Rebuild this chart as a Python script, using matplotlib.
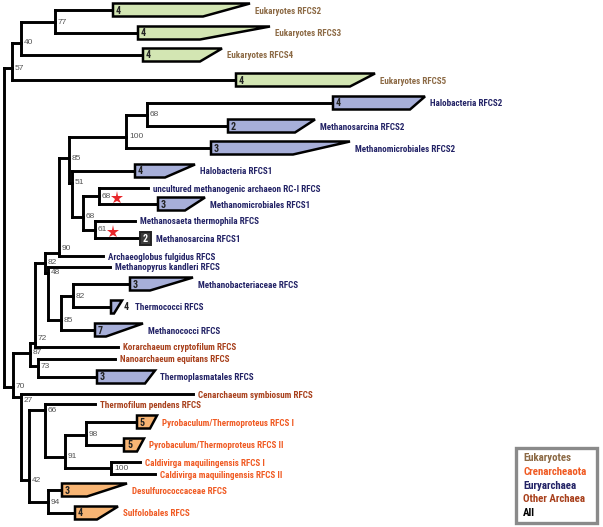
import matplotlib
matplotlib.use("Agg")
import matplotlib.pyplot as plt
from matplotlib.patches import Polygon, Rectangle
from matplotlib import font_manager
from matplotlib.font_manager import FontProperties

# ---------------- data ----------------
# internal nodes: name, parent, depth (x), attach row (y), bootstrap support
node_names   = ['root','E57','E40','E77','A70','A87','A72','N82a','N90','N85','N100','N68a',
                'N51','N68c','N68b','N61','N48','N85b','N82b','A73','A27','A42','A66','N91',
                'N98','N100b','A94']
node_parent  = [None,'root','E57','E40','root','A70','A87','A72','N82a','N90','N85','N100',
                'N85','N51','N68c','N68c','N82a','N48','N85b','A87','A70','A27','A42','A66',
                'N91','N91','A42']
node_depth   = [4,12,21,55,13,30,35,45,59,69,126,147,72,83,99,95,48,61,73,38,21,29,45,65,86,111,48]
node_row     = [None,68,43,22,387,353,343,263,253,158,137,114.5,183,217,196,229.5,273,320,296,
                366,397,480,410,457,435,468,502]
node_support = ['','57','40','77','70','87','72','82','90','85','100','68','51','68','68','61',
                '48','85','82','73','27','42','66','91','98','100','94']

# leaves (collapsed clades have a sequence count and a clade depth span)
leaf_names = ['Eukaryotes RFCS2','Eukaryotes RFCS3','Eukaryotes RFCS4','Eukaryotes RFCS5',
              'Halobacteria RFCS2','Methanosarcina RFCS2','Methanomicrobiales RFCS2',
              'Halobacteria RFCS1','uncultured methanogenic archaeon RC-I RFCS',
              'Methanomicrobiales RFCS1','Methanosaeta thermophila RFCS','Methanosarcina RFCS1',
              'Archaeoglobus fulgidus RFCS','Methanopyrus kandleri RFCS','Methanobacteriaceae RFCS',
              'Thermococci RFCS','Methanococci RFCS','Korarchaeum cryptofilum RFCS',
              'Nanoarchaeum equitans RFCS','Thermoplasmatales RFCS','Cenarchaeum symbiosum RFCS',
              'Thermofilum pendens RFCS','Pyrobaculum/Thermoproteus RFCS I',
              'Pyrobaculum/Thermoproteus RFCS II','Caldivirga maquilingensis RFCS I',
              'Caldivirga maquilingensis RFCS II','Desulfurococcaceae RFCS','Sulfolobales RFCS']
leaf_parent = ['E77','E77','E40','E57','N68a','N68a','N100','N51','N68b','N68b','N61','N61',
               'N90','N48','N82b','N82b','N85b','A72','A73','A73','A27','A66','N98','N98',
               'N100b','N100b','A94','A94']
leaf_group  = ['Euk','Euk','Euk','Euk','Eury','Eury','Eury','Eury','Eury','Eury','Eury','Eury',
               'Eury','Eury','Eury','Eury','Eury','Other','Other','Eury','Other','Other',
               'Cren','Cren','Cren','Cren','Cren','Cren']
leaf_row    = [10,33,55,80,103,126,148,171,188,204,221,238,256,267,284,307,330,347,359,377,
               394,404,422,445,462,474,490,513]
leaf_depth  = [113,138,143,236,333,228,211,135,148,158,135,140,103,110,130,111,95,118,115,97,
               193,95,137,124,140,155,62,75]
leaf_count  = [4,4,4,4,4,2,3,4,None,3,None,2,None,None,3,4,7,None,None,3,None,None,5,5,
               None,None,3,4]
clade_max   = [137,132,79,139,92,87,139,60,None,47,None,11,None,None,63,11,48,None,None,58,
               None,None,20,20,None,None,65,43]
clade_min   = [90,62,57,114,77,67,82,30,None,27,None,11,None,None,20,3,11,None,None,48,
               None,None,13,13,None,None,25,22]

starred_nodes = ['N68b', 'N61']

legend_labels = ['Eukaryotes', 'Crenarcheaota', 'Euryarchaea', 'Other Archaea', 'All']
legend_groups = ['Euk', 'Cren', 'Eury', 'Other', 'All']

# ---------------- style ----------------
text_col = {'Euk': '#8c6a45', 'Cren': '#f05a22', 'Eury': '#232366', 'Other': '#a8401c', 'All': '#000000'}
fill_col = {'Euk': '#d3e6b3', 'Cren': '#f8b574', 'Eury': '#a7afd9', 'Other': '#cccccc'}

# pick a bold, preferably narrow, sans face that is actually installed
def _wnum(w):
    if isinstance(w, int):
        return w
    return {'bold': 700, 'heavy': 800, 'black': 900, 'semibold': 600, 'demibold': 600,
            'extra bold': 800, 'ultrabold': 800}.get(str(w).lower(), 400)

bold_file = None
for fam in ['Liberation Sans Narrow', 'Roboto Condensed', 'Open Sans Condensed', 'Lato',
            'Roboto', 'Noto Sans', 'Liberation Sans', 'DejaVu Sans']:
    cands = [f for f in font_manager.fontManager.ttflist
             if f.name == fam and f.style == 'normal' and 650 <= _wnum(f.weight) <= 800
             and 'condensed' not in f.fname.lower() or
             (f.name == fam and f.style == 'normal' and 650 <= _wnum(f.weight) <= 800
              and fam.endswith(('Narrow', 'Condensed')))]
    if cands:
        cands.sort(key=lambda f: abs(_wnum(f.weight) - 700))
        bold_file = cands[0].fname
        break

def fp(size):
    if bold_file:
        return FontProperties(fname=bold_file, size=size)
    return FontProperties(family='DejaVu Sans', weight='bold', size=size)

LW = 2.1
fig = plt.figure(figsize=(6.03, 5.27), dpi=100)
ax = fig.add_axes([0, 0, 1, 1])
ax.set_xlim(0, 603)
ax.set_ylim(527, 0)
ax.axis('off')
renderer = fig.canvas.get_renderer()

def fit_size(sample, target_px, base=7.0):
    t = ax.text(0, 0, sample, fontproperties=fp(base))
    w = t.get_window_extent(renderer).width
    t.remove()
    return base * target_px / w

LABEL_SIZE = fit_size('Eukaryotes RFCS4', 66)
LEG_SIZE = fit_size('Crenarcheaota', 64)
NUM_SIZE = LABEL_SIZE * 1.1

nx = dict(zip(node_names, node_depth))
ny = dict(zip(node_names, node_row))
children = {n: [] for n in node_names}
for n, p in zip(node_names, node_parent):
    if p is not None:
        children[p].append(ny[n])
for y, p in zip(leaf_row, leaf_parent):
    children[p].append(y)

def seg(xs, ys):
    ax.plot(xs, ys, color='black', lw=LW, solid_capstyle='projecting', zorder=2)

for n in node_names:
    ys = children[n]
    seg([nx[n], nx[n]], [min(ys), max(ys)])
for n, p in zip(node_names, node_parent):
    if p is not None:
        seg([nx[p], nx[n]], [ny[n], ny[n]])

for n, s in zip(node_names, node_support):
    if not s:
        continue
    ys = sorted(children[n])
    y = ny[n]
    if abs(y - ys[0]) < 6:
        y = ys[0] + 7
    elif abs(ys[-1] - y) < 6:
        y = y - 5
    ax.text(nx[n] + 3, y, s, fontsize=6, color='#555555', family='Liberation Sans',
            va='center', ha='left', zorder=3)

for i, name in enumerate(leaf_names):
    y = leaf_row[i]
    x0 = leaf_depth[i]
    p = leaf_parent[i]
    g = leaf_group[i]
    seg([nx[p], x0], [y, y])
    end = x0
    if leaf_count[i] is not None:
        top, bot = y - 6.5, y + 6.5
        far, near = x0 + clade_max[i], x0 + clade_min[i]
        if clade_max[i] == clade_min[i]:
            ax.add_patch(Rectangle((x0, top), far - x0, bot - top, facecolor='#3c3c3c',
                                   edgecolor='#222222', lw=1.4, zorder=3))
            ax.text(x0 + (far - x0) / 2, y + 0.5, str(leaf_count[i]), color='white',
                    fontproperties=fp(NUM_SIZE), ha='center', va='center', zorder=4)
            end = far
        else:
            poly = Polygon([(x0, top), (far, top), (near, bot), (x0, bot)], closed=True,
                           facecolor=fill_col[g], edgecolor='black', lw=1.8,
                           joinstyle='miter', zorder=3)
            ax.add_patch(poly)
            end = far
            if far - x0 < 15:
                ax.text(far + 2, y + 0.5, str(leaf_count[i]), color='#222222',
                        fontproperties=fp(NUM_SIZE), ha='left', va='center', zorder=4)
                end = far + 8
            else:
                ax.text(x0 + 3, y + 0.5, str(leaf_count[i]), color='#222222',
                        fontproperties=fp(NUM_SIZE), ha='left', va='center', zorder=4)
    ax.text(end + 5, y + 1, name, color=text_col[g], fontproperties=fp(LABEL_SIZE),
            ha='left', va='center', zorder=4)

for n in starred_nodes:
    ax.plot(nx[n] + 18, ny[n] + 2, marker='*', color='#e8262a', markersize=9.5,
            markeredgewidth=0, zorder=5)

ax.add_patch(Rectangle((516, 448), 81, 75, facecolor='white', edgecolor='#8a8a8a',
                       lw=2.4, zorder=5))
for k, (lab, g) in enumerate(zip(legend_labels, legend_groups)):
    ax.text(523, 458 + k * 13.8, lab, color=text_col[g], fontproperties=fp(LEG_SIZE),
            ha='left', va='center', zorder=6)

fig.savefig('out.png', dpi=100)
